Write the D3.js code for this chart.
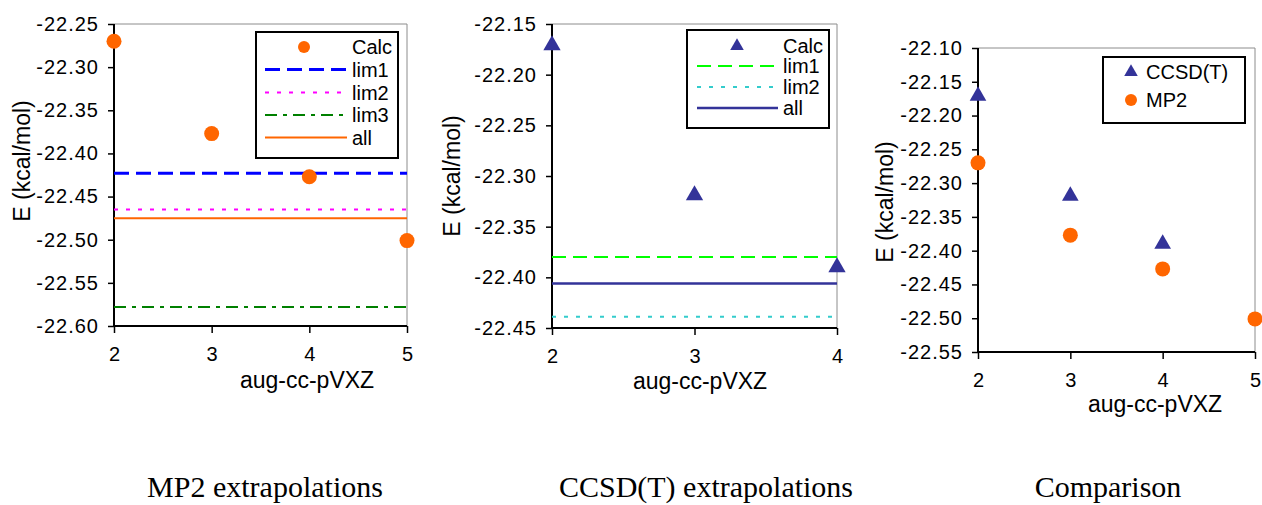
<!DOCTYPE html>
<html>
<head>
<meta charset="utf-8">
<script src="https://cdn.jsdelivr.net/npm/d3@7"></script>
<style>
  body { margin: 0; background: #fff; }
  svg { display: block; }
  text { font-family: "Liberation Sans", Arial, sans-serif; fill: #000; }
  .caption { font-family: "Liberation Serif", "Times New Roman", serif; font-size: 30px; }
</style>
</head>
<body>
<svg id="chart"></svg>
<script>
// basis set cardinal numbers
const mp2Basis = [2, 3, 4, 5]
const ccsdBasis = [2, 3, 4]

// computed energies (kcal/mol)
const mp2Calc = [-22.270, -22.377, -22.427, -22.501]
const ccsdCalc = [-22.171, -22.319, -22.390]

// extrapolated limits
const mp2LimitNames = ["lim1", "lim2", "lim3", "all"]
const mp2Limits = [-22.423, -22.465, -22.578, -22.475]
const ccsdLimitNames = ["lim1", "lim2", "all"]
const ccsdLimits = [-22.380, -22.439, -22.406]

// tick labels
const mp2YTicks = [-22.25, -22.30, -22.35, -22.40, -22.45, -22.50, -22.55, -22.60]
const ccsdYTicks = [-22.15, -22.20, -22.25, -22.30, -22.35, -22.40, -22.45]
const compYTicks = [-22.10, -22.15, -22.20, -22.25, -22.30, -22.35, -22.40, -22.45, -22.50, -22.55]

const captions = ["MP2 extrapolations", "CCSD(T) extrapolations", "Comparison"]

const ORANGE = "#FF6600", NAVY = "#333399"

const svg = d3.select("#chart").attr("width", 1262).attr("height", 505)

function panel(opts) {
  const {left, right, top, bottom, xTicks, yTicks, xTitle, yTitle} = opts
  const x = d3.scaleLinear().domain(d3.extent(xTicks)).range([left, right])
  const y = d3.scaleLinear().domain(d3.extent(yTicks)).range([bottom, top])
  const g = svg.append("g")

  // frame: thin grey top/right
  g.append("path")
    .attr("d", `M${left},${top}H${right}V${bottom}`)
    .attr("fill", "none").attr("stroke", "#8c8c8c").attr("stroke-width", 1)

  const yAxis = g.append("g")
    .attr("transform", `translate(${left},0)`)
    .call(d3.axisLeft(y).tickValues(yTicks).tickSize(6).tickPadding(9).tickFormat(d => d.toFixed(2)))
  yAxis.select(".domain").attr("stroke-width", 2).attr("d", `M0,${top}V${bottom}`)
  yAxis.selectAll(".tick line").attr("stroke-width", 1.5)
  yAxis.selectAll("text").attr("font-size", 20).attr("letter-spacing", 1)
    .attr("font-family", "Liberation Sans, Arial, sans-serif").attr("fill", "#000")

  const xAxis = g.append("g")
    .attr("transform", `translate(0,${bottom})`)
    .call(d3.axisBottom(x).tickValues(xTicks).tickSize(7).tickFormat(d3.format("d")))
  xAxis.select(".domain").attr("stroke-width", 2).attr("d", `M${left},0H${right}`)
  xAxis.selectAll(".tick line").attr("stroke-width", 1.5)
  xAxis.selectAll("text").attr("font-size", 20).attr("dy", null).attr("y", 35)
    .attr("font-family", "Liberation Sans, Arial, sans-serif").attr("fill", "#000")

  g.append("text")
    .attr("x", xTitle[0]).attr("y", xTitle[1])
    .attr("text-anchor", "middle").attr("font-size", 23)
    .text("aug-cc-pVXZ")

  g.append("text")
    .attr("transform", `translate(${yTitle[0]},${yTitle[1]}) rotate(-90)`)
    .attr("text-anchor", "middle").attr("font-size", 23)
    .text("E (kcal/mol)")

  return {g, x, y, left, right}
}

function hline(p, value, style) {
  p.g.append("line")
    .attr("x1", p.left).attr("x2", p.right)
    .attr("y1", p.y(value)).attr("y2", p.y(value))
    .attr("stroke", style.color).attr("stroke-width", style.width)
    .attr("stroke-dasharray", style.dash)
}

function circles(p, xs, ys, r) {
  p.g.selectAll(null).data(xs).join("circle")
    .attr("cx", d => p.x(d)).attr("cy", (d, i) => p.y(ys[i]))
    .attr("r", r).attr("fill", ORANGE)
}

const tri = size => d3.symbol(d3.symbolTriangle, size)

function triangles(p, xs, ys, size) {
  p.g.selectAll(null).data(xs).join("path")
    .attr("d", tri(size))
    .attr("transform", (d, i) => `translate(${p.x(d)},${p.y(ys[i])})`)
    .attr("fill", NAVY)
}

function legend(box, rows) {
  const g = svg.append("g")
  g.append("rect")
    .attr("x", box.x).attr("y", box.y).attr("width", box.w).attr("height", box.h)
    .attr("fill", "#fff").attr("stroke", "#000").attr("stroke-width", 2)
  rows.forEach((r, i) => {
    const cy = box.rowY[i]
    if (r.marker === "circle") {
      g.append("circle").attr("cx", box.markerX).attr("cy", cy).attr("r", 6).attr("fill", ORANGE)
    } else if (r.marker === "triangle") {
      g.append("path").attr("d", tri(80)).attr("transform", `translate(${box.markerX},${cy})`).attr("fill", NAVY)
    } else {
      g.append("line")
        .attr("x1", box.lineX[0]).attr("x2", box.lineX[1]).attr("y1", cy).attr("y2", cy)
        .attr("stroke", r.color).attr("stroke-width", r.width).attr("stroke-dasharray", r.dash)
    }
    g.append("text").attr("x", box.textX).attr("y", cy + 7).attr("font-size", 20).text(r.label)
  })
}

// ---- panel 1: MP2
const mp2Styles = [
  {color: "#0000FF", width: 3, dash: "15,7"},
  {color: "#FF00FF", width: 2, dash: "4,8"},
  {color: "#008000", width: 2, dash: "12,6,4,6"},
  {color: ORANGE, width: 2, dash: null}
]
const p1 = panel({left: 114, right: 407, top: 24, bottom: 326, xTicks: mp2Basis, yTicks: mp2YTicks,
  xTitle: [307, 388], yTitle: [30, 161]})
mp2Limits.forEach((v, i) => hline(p1, v, mp2Styles[i]))
circles(p1, mp2Basis, mp2Calc, 7.5)
legend({x: 256, y: 32, w: 142, h: 126, markerX: 304, lineX: [265, 347], textX: 352,
  rowY: [47, 69.5, 92.5, 115, 137.5]},
  [{label: "Calc", marker: "circle"}].concat(mp2LimitNames.map((n, i) => Object.assign({label: n}, mp2Styles[i]))))

// ---- panel 2: CCSD(T)
const ccsdStyles = [
  {color: "#00FF00", width: 2, dash: "14,7"},
  {color: "#33CCCC", width: 2, dash: "4,8"},
  {color: NAVY, width: 2.5, dash: null}
]
const p2 = panel({left: 552, right: 837, top: 24, bottom: 328, xTicks: ccsdBasis, yTicks: ccsdYTicks,
  xTitle: [700, 389], yTitle: [460, 176]})
ccsdLimits.forEach((v, i) => hline(p2, v, ccsdStyles[i]))
triangles(p2, ccsdBasis, ccsdCalc, 130)
legend({x: 687, y: 30, w: 142, h: 98, markerX: 737, lineX: [697, 778], textX: 783,
  rowY: [46, 66, 87, 108]},
  [{label: "Calc", marker: "triangle"}].concat(ccsdLimitNames.map((n, i) => Object.assign({label: n}, ccsdStyles[i]))))

// ---- panel 3: comparison
const p3 = panel({left: 978, right: 1255, top: 48, bottom: 352, xTicks: mp2Basis, yTicks: compYTicks,
  xTitle: [1155, 412], yTitle: [893, 202]})
triangles(p3, ccsdBasis, ccsdCalc, 120)
circles(p3, mp2Basis, mp2Calc, 7.5)
legend({x: 1103, y: 57, w: 142, h: 66, markerX: 1131, textX: 1146, rowY: [72, 100]},
  [{label: "CCSD(T)", marker: "triangle"}, {label: "MP2", marker: "circle"}])

// captions
const captionX = [265, 706, 1108]
svg.selectAll(".caption").data(captions).join("text")
  .attr("class", "caption")
  .attr("x", (d, i) => captionX[i]).attr("y", 497)
  .attr("text-anchor", "middle")
  .text(d => d)
</script>
</body>
</html>
